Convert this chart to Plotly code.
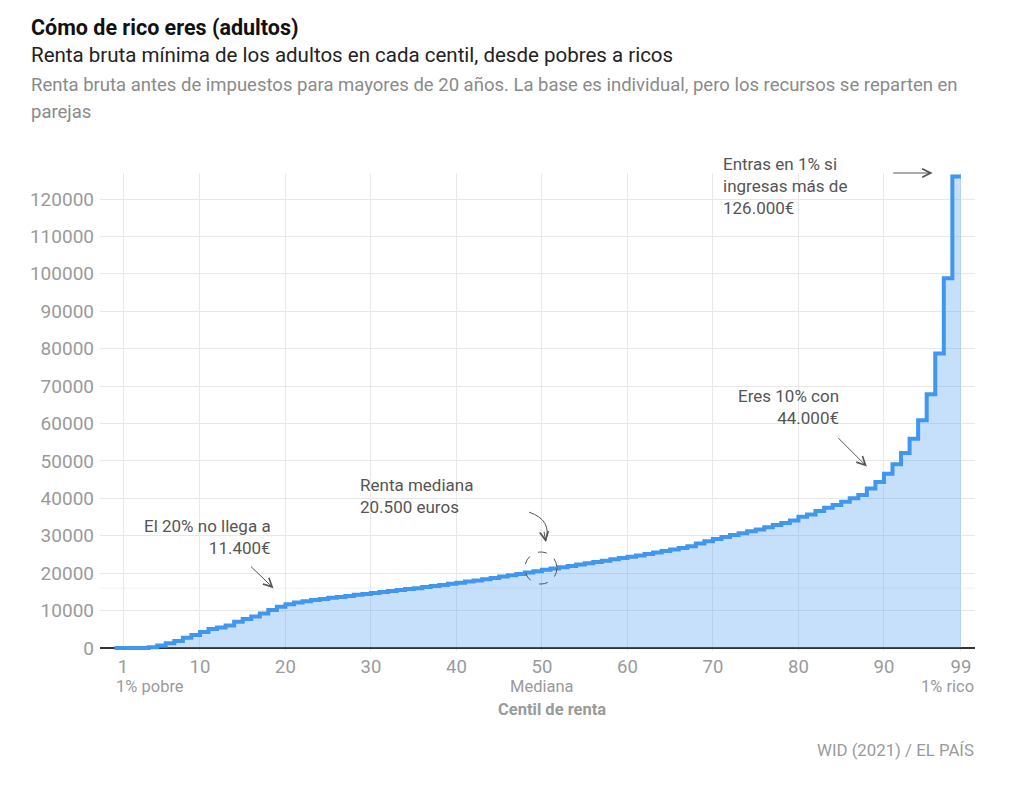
import plotly.graph_objects as go

# ---- data ----
centiles = list(range(0, 99))
renta = [
    0, 0, 0, 0, 200, 650, 1250, 1900, 2750, 3450,          # 0-9
    4300, 5050, 5500, 6000, 7000, 7750, 8400, 9250, 10150, 11000,  # 10-19
    11700, 12150, 12500, 12800, 13100, 13400, 13650, 13900, 14200, 14450,  # 20-29
    14700, 14950, 15250, 15500, 15750, 16000, 16300, 16550, 16850, 17150,  # 30-39
    17450, 17750, 18050, 18350, 18700, 19100, 19450, 19800, 20150, 20500,  # 40-49
    20900, 21250, 21600, 21950, 22300, 22650, 23000, 23350, 23700, 24050,  # 50-59
    24400, 24750, 25150, 25550, 25950, 26350, 26750, 27200, 27900, 28500,  # 60-69
    29100, 29650, 30200, 30700, 31200, 31700, 32250, 32850, 33400, 34100,  # 70-79
    35100, 35700, 36600, 37500, 38200, 39100, 40000, 40900, 42650, 44400,  # 80-89
    46600, 49100, 52100, 55900, 60850, 67800, 78700, 98800, 126000,        # 90-98
]
end_centile = 99
x_ticks = [1, 10, 20, 30, 40, 50, 60, 70, 80, 90, 99]
y_ticks = list(range(0, 130000, 10000))

# ---- layout geometry (page has an 8px body margin) ----
OFF = 8
W, H = 1008, 775
L, R, T, B = 92, 41, 165, 132
PW, PH = W - L - R, H - T - B


def px(x):
    return (x - OFF - L) / PW


def py(y):
    return (H - B - (y - OFF)) / PH


FONT = "Roboto"
BLUE = "#3f97ef"

fig = go.Figure()
fig.add_trace(go.Scatter(
    x=centiles + [end_centile],
    y=renta + [renta[-1]],
    mode="lines",
    line=dict(color=BLUE, width=4, shape="hv"),
    fill="tozeroy",
    fillcolor="rgba(66,150,240,0.30)",
    hoverinfo="skip",
    showlegend=False,
))

annotations = []


def txt(x, y, text, size, color, xanchor="left", bold=False, xref="paper", yref="paper", yanchor="middle"):
    annotations.append(dict(
        x=x, y=y, xref=xref, yref=yref, text=("<b>%s</b>" % text) if bold else text,
        showarrow=False, xanchor=xanchor, yanchor=yanchor, align=xanchor if xanchor != "center" else "center",
        font=dict(family=FONT, size=size, color=color),
    ))


# header
txt(px(29), py(28), "Cómo de rico eres (adultos)", 21.5, "#111", bold=True)
txt(px(29), py(55), "Renta bruta mínima de los adultos en cada centil, desde pobres a ricos", 20.5, "#222")
txt(px(29), py(85), "Renta bruta antes de impuestos para mayores de 20 años. La base es individual, pero los recursos se reparten en", 18.5, "#8a8a8a")
txt(px(29), py(112), "parejas", 18.5, "#8a8a8a")

# x-axis extra labels
GREY = "#9a9a9a"
txt(px(114), py(686), "1% pobre", 16.5, GREY)
txt(50, py(686), "Mediana", 16.5, GREY, xanchor="center", xref="x")
txt(px(976), py(686), "1% rico", 16.5, GREY, xanchor="right")
txt(51.2, py(709), "Centil de renta", 16.5, GREY, xanchor="center", bold=True, xref="x")
txt(px(976), py(750), "WID (2021) / EL PAÍS", 16.8, GREY, xanchor="right")

# chart annotations (text)
ANN = "#555"
txt(px(273), py(537), "El 20% no llega a<br>11.400€", 17, ANN, xanchor="right")
txt(px(358), py(496), "Renta mediana<br>20.500 euros", 17, ANN)
txt(px(841), py(407), "Eres 10% con<br>44.000€", 17, ANN, xanchor="right")
txt(px(721), py(186), "Entras en 1% si<br>ingresas más de<br>126.000€", 17, ANN)


def arrow(x, y, ax, ay):
    annotations.append(dict(
        x=x, y=y, xref="x", yref="y", ax=ax, ay=ay, axref="pixel", ayref="pixel",
        text="", showarrow=True, arrowhead=5, arrowsize=1.7, arrowwidth=1, arrowcolor="#555",
    ))


arrow(18.6, 16000, -24, -23)
arrow(88.0, 48500, -30, -30)
arrow(95.7, 126950, -41, 0)
arrow(50.45, 28300, -2, -12)

shapes = [
    # faint reference line
    dict(type="line", xref="paper", yref="y", x0=0, x1=1, y0=16000, y1=16000,
         line=dict(color="#f0f0f0", width=1), layer="below"),
    # dashed circle around the median
    dict(type="circle", xref="x", yref="y", x0=48.0, x1=51.75, y0=17100, y1=25650,
         line=dict(color="#555", width=1, dash="dash")),
    # curved arrow line
    dict(type="path", xref="x", yref="y",
         path="M 48.5,36300 Q 51.2,34200 50.45,28600",
         line=dict(color="#555", width=1)),
]

fig.update_layout(
    width=W, height=H,
    margin=dict(l=L, r=R, t=T, b=B),
    paper_bgcolor="white", plot_bgcolor="white",
    font=dict(family=FONT, color="#999"),
    xaxis=dict(
        range=[-1.69, 100.65], tickvals=x_ticks, ticktext=[str(v) for v in x_ticks],
        showgrid=True, gridcolor="#e8e8e8", gridwidth=1, zeroline=False,
        tickfont=dict(family=FONT, size=18.5, color=GREY), ticks="",
        ticklabelstandoff=2, fixedrange=True,
    ),
    yaxis=dict(
        range=[-800, 126950], tickvals=y_ticks, tickformat="d",
        showgrid=True, gridcolor="#e8e8e8", gridwidth=1,
        zeroline=True, zerolinecolor="#333", zerolinewidth=1.5,
        tickfont=dict(family=FONT, size=19, color=GREY), ticks="",
        ticklabelstandoff=5, fixedrange=True,
    ),
    annotations=annotations,
    shapes=shapes,
    showlegend=False,
)

fig.write_html("out.html")
